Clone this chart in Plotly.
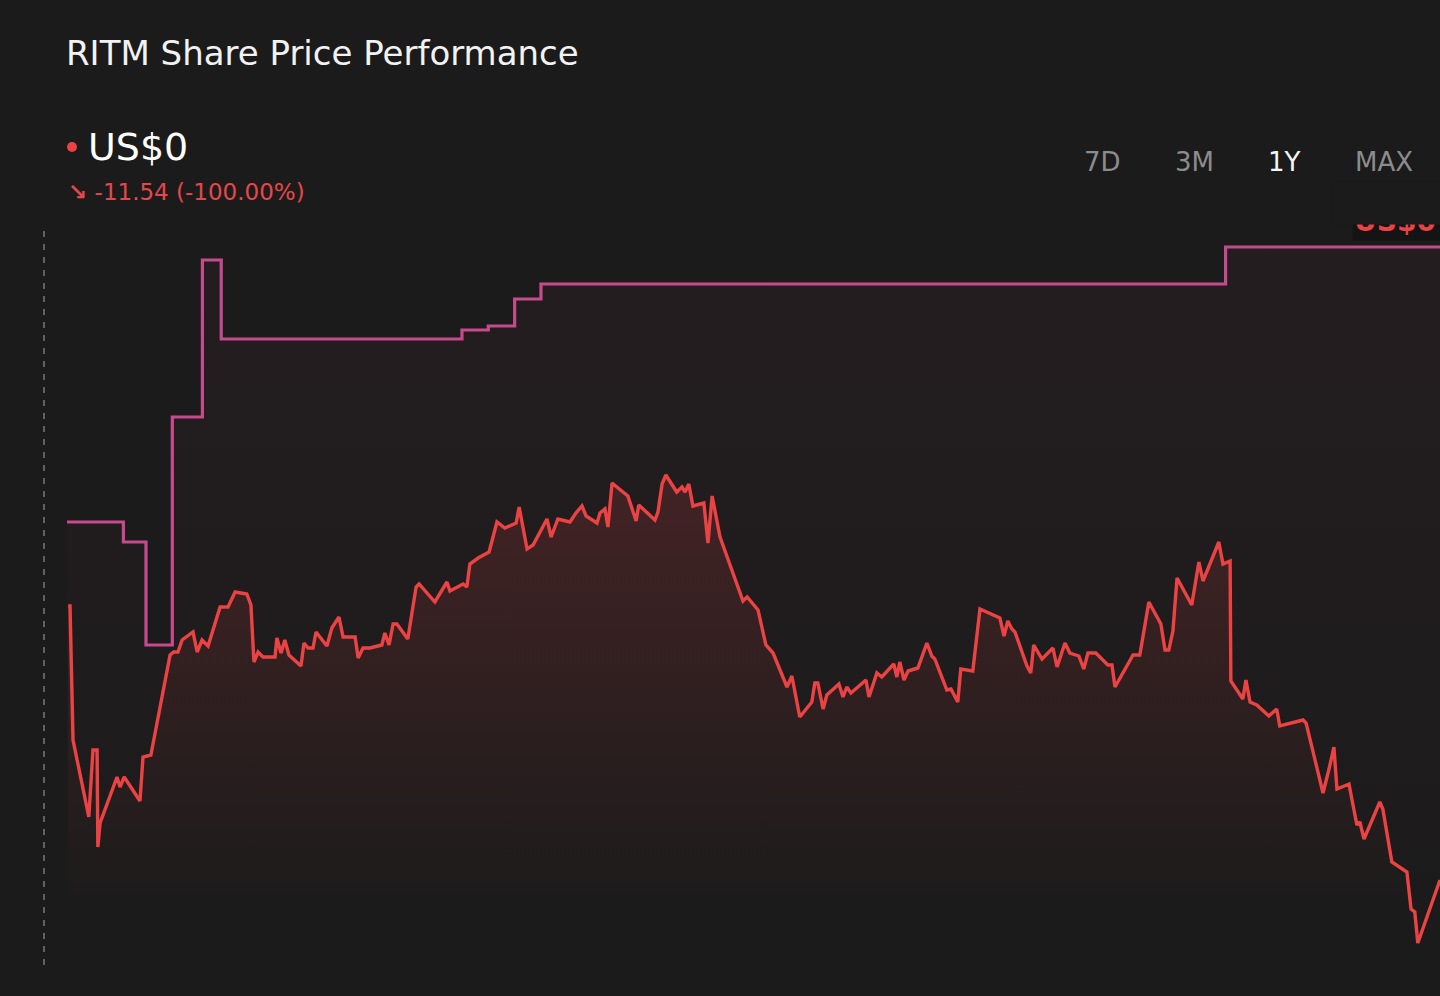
import pandas as pd
import plotly.graph_objects as go

# RITM 1Y price history (days since start, price in US$)
start = pd.Timestamp("2024-06-24")

price_days = [0.3, 0.8, 1.6, 5.8, 6.9, 8.0, 8.2, 8.8, 13.3, 14.1, 15.2, 19.4, 20.2, 22.3,
    27.4, 28.4, 29.5, 30.6, 33.5, 34.6, 35.9, 37.5, 40.7, 42.8, 44.7, 47.8, 48.9, 49.7,
    50.8, 52.1, 55.3, 55.8, 56.9, 57.9, 59.0, 62.2, 63.0, 64.1, 65.4, 66.2, 69.1, 70.4,
    72.3, 73.4, 76.6, 77.4, 78.7, 80.5, 83.7, 84.5, 85.6, 86.7, 87.7, 90.6, 92.8, 93.6,
    97.8, 101.0, 101.8, 105.3, 106.3, 107.1, 109.3, 112.2, 114.3, 116.4, 119.4, 120.2,
    122.3, 123.9, 127.6, 128.7, 130.5, 133.7, 135.3, 136.9, 138.0, 140.9, 141.7, 143.0,
    143.8, 144.9, 147.8, 149.1, 151.3, 152.0, 156.3, 157.1, 158.2, 159.2, 162.1, 163.5,
    164.3, 165.3, 166.4, 169.3, 170.4, 171.5, 173.6, 177.0, 179.7, 180.8, 183.7, 185.8,
    187.7, 191.4, 192.7, 194.8, 198.0, 198.8, 199.6, 201.0, 202.0, 205.2, 206.3, 207.3,
    208.4, 212.4, 213.2, 215.3, 216.6, 219.8, 220.6, 221.4, 222.5, 223.6, 226.2, 228.6,
    229.9, 230.7, 233.9, 235.0, 236.8, 237.6, 240.8, 242.7, 248.0, 249.1, 250.1, 251.2,
    252.0, 255.2, 256.2, 257.0, 259.2, 262.1, 263.2, 265.3, 266.6, 269.0, 270.3, 271.4,
    273.5, 276.7, 277.8, 278.6, 283.4, 285.2, 287.6, 290.8, 291.9, 292.9, 294.0, 295.1,
    299.0, 300.9, 302.0, 306.2, 307.3, 309.2, 309.4, 312.6, 313.4, 314.5, 316.3, 319.5,
    321.6, 322.4, 328.6, 329.4, 333.9, 335.5, 336.8, 337.6, 340.8, 342.9, 343.7, 344.8,
    349.0, 349.8, 352.2, 356.2, 357.3, 358.3, 359.1, 365.0]

prices = [11.54, 11.54, 10.20, 9.43, 10.10, 10.10, 9.13, 9.37, 9.83, 9.73, 9.83, 9.59, 10.03, 10.05,
    11.05, 11.08, 11.08, 11.20, 11.28, 11.08, 11.20, 11.14, 11.53, 11.53, 11.68, 11.66, 11.55, 10.98,
    11.08, 11.03, 11.03, 11.22, 11.07, 11.20, 11.05, 10.94, 11.17, 11.12, 11.12, 11.28, 11.14, 11.32,
    11.43, 11.23, 11.23, 11.02, 11.12, 11.12, 11.15, 11.27, 11.15, 11.36, 11.36, 11.21, 11.73, 11.76,
    11.58, 11.78, 11.69, 11.76, 11.73, 11.96, 12.02, 12.08, 12.38, 12.32, 12.37, 12.53,
    12.11, 12.15, 12.41, 12.23, 12.41, 12.38, 12.47, 12.54, 12.44, 12.37, 12.47, 12.51,
    12.33, 12.77, 12.68, 12.64, 12.39, 12.55, 12.40, 12.48, 12.76, 12.85, 12.68, 12.73,
    12.68, 12.76, 12.54, 12.57, 12.17, 12.64, 12.23, 11.87, 11.59, 11.63, 11.50, 11.15,
    11.07, 10.73, 10.84, 10.43, 10.58, 10.77, 10.77, 10.51, 10.65, 10.76, 10.63, 10.73,
    10.67, 10.80, 10.63, 10.87, 10.83, 10.96, 10.83, 10.98, 10.80, 10.89, 10.92, 11.17,
    11.04, 11.01, 10.70, 10.71, 10.58, 10.91, 10.89, 11.51, 11.42, 11.24, 11.39, 11.31,
    11.28, 10.94, 10.87, 11.15, 11.01, 11.12, 10.93, 11.17, 11.07, 11.04, 10.91, 11.07,
    11.07, 10.95, 10.95, 10.73, 11.05, 11.05, 11.58, 11.36, 11.10, 11.10, 11.29, 11.82,
    11.55, 11.98, 11.79, 12.18, 11.96, 11.99, 10.79, 10.61, 10.80, 10.58, 10.55, 10.44,
    10.51, 10.34, 10.40, 10.37, 9.67, 9.91, 10.13, 9.71, 9.76, 9.35, 9.38, 9.21,
    9.58, 9.51, 8.98, 8.88, 8.51, 8.48, 8.17, 8.80]

# second (step) series
step_days = [0, 15, 21, 28, 36, 41, 105, 112, 119, 126, 308, 365]
step_values = [12.38, 12.18, 11.15, 13.43, 15.00, 14.21, 14.30, 14.34, 14.61, 14.76, 15.13, 15.13]

price_dates = start + pd.to_timedelta(price_days, unit="D")
step_dates = start + pd.to_timedelta(step_days, unit="D")

BG = "#1b1b1b"
RED = "#eb4343"
PINK = "#c64b8c"
FONT = "DejaVu Sans"

fig = go.Figure()

fig.add_trace(go.Scatter(
    x=step_dates, y=step_values, mode="lines", line=dict(color=PINK, width=3.2, shape="hv"),
    fill="tozeroy",
    fillgradient=dict(type="vertical", start=8.57, stop=15.13,
                      colorscale=[[0, "rgba(200,75,140,0)"], [1, "rgba(200,75,140,0.045)"]]),
    hoverinfo="skip", showlegend=False))

fig.add_trace(go.Scatter(
    x=price_dates, y=prices, mode="lines", line=dict(color=RED, width=3.4),
    fill="tozeroy",
    fillgradient=dict(type="vertical", start=8.57, stop=12.85,
                      colorscale=[[0, "rgba(235,66,66,0)"], [1, "rgba(235,66,66,0.17)"]]),
    showlegend=False))

# plot area: x 67..1440 px, y 225..965 px
def px(x):
    return (x - 67) / 1373

def py(y):
    return (965 - y) / 740

shapes = [
    dict(type="rect", xref="paper", yref="paper", x0=0, x1=1, y0=py(903), y1=1,
         fillcolor="rgba(40,32,32,0.15)", line_width=0, layer="below"),
    dict(type="rect", xref="paper", yref="paper", x0=0, x1=px(575), y0=1, y1=py(115),
         fillcolor="rgba(40,32,32,0.15)", line_width=0, layer="below"),
    dict(type="line", xref="paper", yref="paper", x0=px(44), x1=px(44), y0=0, y1=1,
         line=dict(color="#7a7a7a", width=1.5, dash="6px,7px")),
    dict(type="circle", xref="paper", yref="paper", xsizemode="pixel", ysizemode="pixel",
         xanchor=px(72), yanchor=py(147), x0=-5, x1=5, y0=-5, y1=5,
         fillcolor=RED, line_width=0),
]

annotations = [
    dict(text="RITM Share Price Performance", x=px(64), y=py(53), xanchor="left", yanchor="middle",
         font=dict(size=34, color="#f2f2f2")),
    dict(text="US$0", x=px(86), y=py(147), xanchor="left", yanchor="middle",
         font=dict(size=38, color="#ffffff")),
    dict(text="<b>↘</b> -11.54 (-100.00%)", x=px(66), y=py(192), xanchor="left", yanchor="middle",
         font=dict(size=23, color="#e5484a")),
    dict(text="<b>US$0</b>", x=px(1352), y=py(241), xanchor="left", yanchor="bottom",
         width=110, height=36, align="left", valign="middle", bgcolor="#141414",
         font=dict(size=28, color=RED)),
    dict(text=" ", x=px(1330), y=1, xanchor="left", yanchor="bottom",
         width=130, height=40, bgcolor=BG),
]

for label, cx in [("7D", 1102), ("3M", 1194), ("1Y", 1284), ("MAX", 1384)]:
    annotations.append(dict(text=label, x=px(cx), y=py(162), xanchor="center", yanchor="middle",
                            font=dict(size=26, color="#f5f5f5" if label == "1Y" else "#8c8c8c")))

for a in annotations:
    a.update(xref="paper", yref="paper", showarrow=False)

fig.update_layout(
    width=1440, height=996,
    margin=dict(l=67, r=0, t=225, b=31),
    paper_bgcolor=BG, plot_bgcolor="rgba(0,0,0,0)",
    font=dict(family=FONT),
    xaxis=dict(visible=False, range=[start, start + pd.Timedelta(days=365)]),
    yaxis=dict(visible=False, range=[7.95, 15.35]),
    shapes=shapes, annotations=annotations,
    hovermode=False,
)

fig.write_html("out.html", config={"displayModeBar": False},
               post_script="document.body.style.margin='0';document.body.style.background='#1b1b1b';document.body.style.overflow='hidden';")
